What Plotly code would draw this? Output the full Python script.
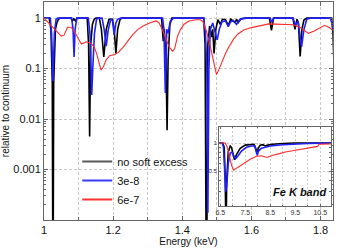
import plotly.graph_objects as go

# ---------------- main panel data (Energy keV, relative to continuum) ----------
black_E = [1.000, 1.015, 1.020, 1.024, 1.026, 1.028, 1.033, 1.037, 1.042, 1.046,
           1.078, 1.082, 1.086, 1.091, 1.096, 1.125, 1.129, 1.132, 1.135, 1.140,
           1.145, 1.150, 1.160, 1.166, 1.173, 1.180, 1.188, 1.198, 1.203, 1.208,
           1.213, 1.220, 1.226, 1.340, 1.345, 1.348, 1.353, 1.356, 1.359, 1.364,
           1.370, 1.462, 1.466, 1.470, 1.474, 1.479, 1.485, 1.488, 1.492, 1.497,
           1.503, 1.510, 1.516, 1.525, 1.533, 1.540, 1.553, 1.557, 1.562, 1.570,
           1.585, 1.652, 1.658, 1.664, 1.720, 1.726, 1.732, 1.736, 1.741, 1.746,
           1.752, 1.760, 1.832, 1.836, 1.840]
black_V = [1, 1, 0.6, 0.05, 1e-6, 0.05, 0.6, 0.8, 0.95, 1,
           1, 0.88, 0.97, 0.88, 1, 1, 0.3, 0.0045, 0.3, 0.75,
           0.95, 1, 1, 0.6, 0.17, 0.6, 0.95, 0.95, 0.6, 0.2,
           0.6, 0.95, 1, 1, 0.35, 0.6, 0.15, 0.006, 0.15, 0.75,
           1, 1, 0.3, 1e-6, 0.3, 0.7, 0.42, 0.6, 0.2, 0.6,
           0.93, 0.75, 0.95, 0.93, 0.72, 0.95, 0.82, 0.95, 0.82, 0.97,
           1, 1, 0.57, 1, 1, 0.6, 0.95, 0.8, 0.175, 0.6,
           0.92, 1, 1, 0.5, 0.07]

blue_E = [1.000, 1.018, 1.022, 1.026, 1.030, 1.035, 1.040, 1.080, 1.084, 1.087,
          1.090, 1.095, 1.128, 1.133, 1.136, 1.138, 1.141, 1.146, 1.152, 1.157,
          1.168, 1.174, 1.180, 1.186, 1.193, 1.198, 1.203, 1.208, 1.213, 1.222,
          1.343, 1.347, 1.351, 1.355, 1.359, 1.365, 1.374, 1.462, 1.467, 1.471,
          1.474, 1.477, 1.481, 1.488, 1.496, 1.501, 1.507, 1.515, 1.525, 1.533,
          1.540, 1.548, 1.557, 1.566, 1.580, 1.654, 1.659, 1.664, 1.720, 1.727,
          1.735, 1.745, 1.752, 1.760, 1.770, 1.828, 1.833, 1.840]
blue_V = [1, 1, 0.5, 0.056, 0.5, 0.95, 1, 1, 0.6, 0.17,
          0.6, 1, 1, 0.5, 0.1, 0.03, 0.1, 0.5, 0.95, 1,
          1, 0.6, 0.28, 0.6, 0.95, 0.9, 0.47, 0.8, 0.95, 1,
          1, 0.6, 0.033, 0.6, 0.5, 0.85, 1, 1, 0.5, 0.1,
          1.4e-4, 0.1, 0.6, 0.8, 0.5, 0.37, 0.6, 0.85, 0.88, 0.68,
          0.85, 0.9, 0.75, 0.93, 1, 1, 0.82, 1, 1, 0.75,
          0.85, 0.27, 0.6, 0.95, 1, 1, 0.8, 0.45]

red_E = [1.000, 1.010, 1.020, 1.032, 1.040, 1.050, 1.058, 1.068, 1.078, 1.090,
         1.100, 1.108, 1.115, 1.122, 1.135, 1.145, 1.152, 1.160, 1.165, 1.172,
         1.180, 1.190, 1.205, 1.215, 1.230, 1.245, 1.258, 1.272, 1.287, 1.305,
         1.324, 1.332, 1.342, 1.352, 1.362, 1.372, 1.378, 1.386, 1.395, 1.405,
         1.420, 1.440, 1.452, 1.460, 1.470, 1.480, 1.490, 1.499, 1.507, 1.515,
         1.525, 1.535, 1.548, 1.560, 1.578, 1.600, 1.625, 1.650, 1.670, 1.690,
         1.720, 1.740, 1.755, 1.765, 1.780, 1.800, 1.812, 1.825, 1.840]
red_V = [1.0, 0.85, 0.70, 0.57, 0.50, 0.44, 0.46, 0.66, 0.66, 0.52,
         0.38, 0.31, 0.32, 0.34, 0.32, 0.27, 0.20, 0.12, 0.093, 0.11,
         0.15, 0.18, 0.19, 0.21, 0.27, 0.37, 0.48, 0.60, 0.70, 0.80,
         0.88, 0.82, 0.60, 0.40, 0.27, 0.22, 0.25, 0.43, 0.60, 0.76,
         0.88, 0.93, 0.93, 0.85, 0.55, 0.30, 0.15, 0.076, 0.10, 0.14,
         0.20, 0.27, 0.38, 0.48, 0.58, 0.65, 0.72, 0.77, 0.76, 0.75,
         0.74, 0.66, 0.55, 0.50, 0.55, 0.66, 0.72, 0.65, 0.55]

# ---------------- inset (Fe K band) -------------------------------------------
inB_E = [6.45, 6.60, 6.66, 6.70, 6.73, 6.76, 6.82, 6.90, 6.95, 7.00, 7.07, 7.15,
         7.30, 7.50, 7.70, 7.85, 7.92, 7.97, 8.02, 8.10, 8.20, 8.30, 8.40, 8.60,
         9.00, 9.50, 10.95]
inB_V = [1, 1, 0.9, 0.4, 0.1, 0.4, 0.8, 0.93, 0.9, 0.78, 0.66, 0.75,
         0.88, 0.95, 0.97, 0.97, 0.88, 0.77, 0.88, 0.95, 0.96, 0.93, 0.95, 0.97,
         0.99, 1, 1]
inU_E = [6.45, 6.58, 6.63, 6.68, 6.72, 6.76, 6.82, 6.90, 6.97, 7.05, 7.12, 7.20,
         7.35, 7.55, 7.75, 7.88, 7.95, 7.98, 8.03, 8.15, 8.30, 8.50, 9.00, 9.50,
         10.00, 10.95]
inU_V = [1, 1, 0.9, 0.5, 0.3, 0.35, 0.6, 0.78, 0.80, 0.72, 0.68, 0.72,
         0.82, 0.9, 0.93, 0.93, 0.78, 0.74, 0.82, 0.88, 0.90, 0.93, 0.96, 0.98,
         0.99, 1]
inR_E = [6.45, 6.70, 6.78, 6.85, 6.95, 7.03, 7.12, 7.25, 7.45, 7.70, 7.95, 8.15,
         8.37, 8.60, 8.80, 9.10, 9.45, 9.80, 10.10, 10.40, 10.45, 10.95]
inR_V = [1, 1, 0.9, 0.75, 0.58, 0.51, 0.53, 0.56, 0.61, 0.67, 0.72, 0.73,
         0.70, 0.74, 0.76, 0.80, 0.83, 0.86, 0.89, 0.92, 0.97, 0.98]

names = ["no soft excess", "3e-8", "6e-7"]
colors = ["#000000", "#1f1fff", "#ff2a2a"]
legend_colors = ["#5a5a5a", "#3b3bff", "#ff3030"]
widths = [1.6, 1.6, 1.1]

fig = go.Figure()
main = [(black_E, black_V), (blue_E, blue_V), (red_E, red_V)]
inset = [(inB_E, inB_V), (inU_E, inU_V), (inR_E, inR_V)]
for (x, y), c, w in zip(main, colors, widths):
    fig.add_trace(go.Scatter(x=x, y=y, mode="lines", line=dict(color=c, width=w),
                             showlegend=False, xaxis="x", yaxis="y"))
for (x, y), c, w in zip(inset, colors, widths):
    fig.add_trace(go.Scatter(x=x, y=y, mode="lines", line=dict(color=c, width=w),
                             showlegend=False, xaxis="x2", yaxis="y2"))
for n, c in zip(names, legend_colors):
    fig.add_trace(go.Scatter(x=[None], y=[None], mode="lines", name=n,
                             line=dict(color=c, width=2), xaxis="x", yaxis="y"))

font = "Liberation Sans, Arial, sans-serif"
axcol = "#666666"
grid = "#c8c8c8"

fig.update_layout(
    width=339, height=250,
    margin=dict(l=44, r=6, t=2, b=30, autoexpand=False),
    paper_bgcolor="white", plot_bgcolor="white",
    font=dict(family=font, size=11, color="#111"),
    showlegend=True,
    legend=dict(x=0.115, y=0.335, xanchor="left", yanchor="top",
                bgcolor="rgba(0,0,0,0)", font=dict(size=11),
                itemwidth=30, tracegroupgap=0),
    xaxis=dict(range=[1.0, 1.836], domain=[0, 1], tickvals=[1, 1.2, 1.4, 1.6, 1.8],
               ticktext=["1", "1.2", "1.4", "1.6", "1.8"], automargin=False,
               ticks="inside", ticklen=4, tickcolor=axcol,
               showline=True, linecolor=axcol, linewidth=1, mirror="allticks",
               showgrid=True, gridcolor=grid, griddash="3px,2px", gridwidth=1,
               minor=dict(dtick=0.1, tick0=1.0, ticks="inside", ticklen=3,
                          tickcolor=axcol, showgrid=True, gridcolor=grid,
                          griddash="3px,2px"),
               zeroline=False, tickfont=dict(size=11),
               title=dict(text="Energy (keV)", font=dict(size=10), standoff=0)),
    yaxis=dict(type="log", range=[-4, 0.32], domain=[0, 1], automargin=False,
               tickvals=[1, 0.1, 0.01, 0.001], ticktext=["1", "0.1", "0.01", "0.001"],
               ticks="inside", ticklen=4, tickcolor=axcol,
               showline=True, linecolor=axcol, linewidth=1, mirror="allticks",
               showgrid=True, gridcolor=grid, griddash="3px,2px",
               minor=dict(dtick="D1", ticks="inside", ticklen=2, tickcolor=axcol,
                          showgrid=False),
               zeroline=False, tickfont=dict(size=11),
               title=dict(text="relative to continuum", font=dict(size=10), standoff=3)),
    xaxis2=dict(range=[6.45, 10.95], domain=[0.6055, 0.9948], anchor="y2",
                tickvals=[6.5, 7.5, 8.5, 9.5, 10.5], automargin=False,
                ticktext=["6.5", "7.5", "8.5", "9.5", "10.5"],
                ticks="inside", ticklen=2, tickcolor=axcol,
                showline=True, linecolor=axcol, linewidth=1, mirror="allticks",
                showgrid=True, gridcolor=grid, griddash="2px,2px",
                minor=dict(dtick=0.5, tick0=6.5, showgrid=True, gridcolor=grid,
                           griddash="2px,2px", ticks="inside", ticklen=1,
                           tickcolor=axcol),
                zeroline=False, tickfont=dict(size=7, color="#333")),
    yaxis2=dict(type="log", range=[-0.678, 0.176], domain=[0.064, 0.428], anchor="x2",
                tickvals=[0.5, 1], ticktext=["0.5", "1"], automargin=False,
                ticks="inside", ticklen=2, tickcolor=axcol,
                showline=True, linecolor=axcol, linewidth=1, mirror="allticks",
                showgrid=True, gridcolor=grid, griddash="2px,2px",
                minor=dict(dtick="D1", ticks="inside", ticklen=2, tickcolor=axcol,
                           showgrid=False),
                zeroline=False, tickfont=dict(size=6, color="#333")),
    annotations=[dict(text="<b><i>Fe K band</i></b>", xref="x2 domain", yref="y2 domain",
                      x=0.72, y=0.18, xanchor="center", yanchor="middle", showarrow=False,
                      font=dict(size=11, color="#111", family=font))],
)

fig.write_html("out.html", config={"displayModeBar": False},
               post_script="document.body.style.margin='0px';document.body.style.overflow='hidden';")
